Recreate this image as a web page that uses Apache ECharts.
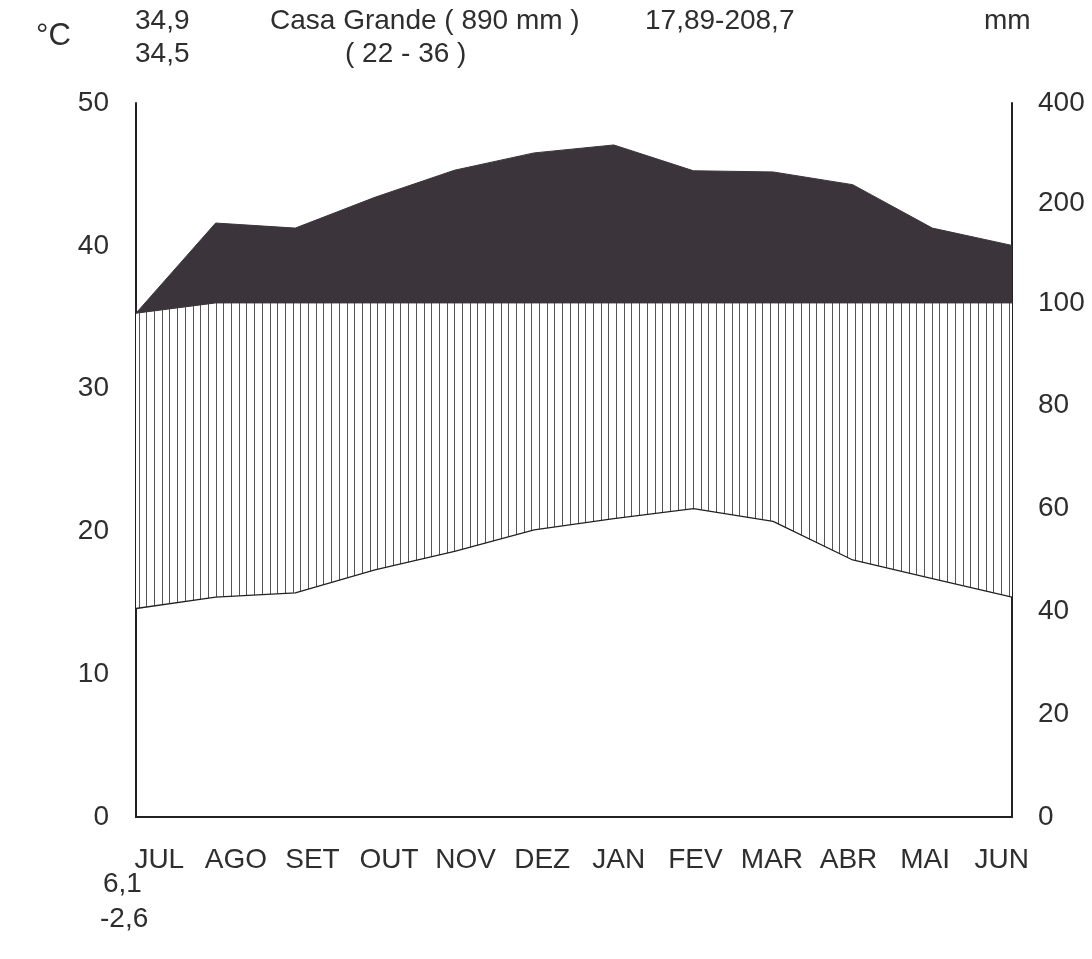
<!DOCTYPE html>
<html>
<head>
<meta charset="utf-8">
<script src="https://cdn.jsdelivr.net/npm/echarts@6/dist/echarts.min.js"></script>
<style>
html,body{margin:0;padding:0;background:#fff;}
#chart{width:1092px;height:959px;}
</style>
</head>
<body>
<div id="chart"></div>
<script>
// ---- data ----
const months = ['JUL','AGO','SET','OUT','NOV','DEZ','JAN','FEV','MAR','ABR','MAI','JUN'];
const temperature = [14.6, 15.4, 15.7, 17.3, 18.6, 20.1, 20.9, 21.6, 20.7, 18.0, 16.7, 15.4];
const precipitation = [98, 174, 168, 208, 251, 283, 299, 250, 248, 227, 168, 149];
const tempTicks = [0, 10, 20, 30, 40, 50];
const mmTicks = [0, 20, 40, 60, 80, 100, 200, 400];

// Walter-Lieth style scale: linear up to 100 mm, compressed (log) above
function mmToDiag(p) { return p <= 100 ? p * 0.36 : 36 + 7 * Math.log2(p / 100); }
const CAP = mmToDiag(100);

const precipDiag = precipitation.map(mmToDiag);
const hatchPart = precipDiag.map((d, i) => Math.min(d, CAP) - temperature[i]);
const darkPart = precipDiag.map(d => Math.max(d - CAP, 0));
const mmTickPos = mmTicks.map(mmToDiag);
const mmLabelMap = {};
mmTickPos.forEach((v, i) => { mmLabelMap[v.toFixed(4)] = String(mmTicks[i]); });

// hatch pattern
const pc = document.createElement('canvas');
pc.width = 77; pc.height = 8;
const pctx = pc.getContext('2d');
pctx.fillStyle = '#fff';
pctx.fillRect(0, 0, 77, 8);
pctx.fillStyle = '#555';
for (let i = 0; i < 10; i++) pctx.fillRect(Math.round(i * 7.7), 0, 1, 8);

const FONT = '"Liberation Sans", Arial, Helvetica, sans-serif';
const TXT = '#2e2e2e';
const FS = 28;
const chart = echarts.init(document.getElementById('chart'));

function txt(x, y, s, fs) {
  return { type: 'text', left: x, top: y, style: { text: s, fontSize: fs || FS, fontFamily: FONT, fill: TXT } };
}

chart.setOption({
  animation: false,
  backgroundColor: '#fff',
  grid: [
    { left: 136, right: 80, top: 103, bottom: 142 },
    { left: 121, right: 52, top: 103, bottom: 142 }
  ],
  xAxis: [
    { type: 'category', gridIndex: 0, data: months, boundaryGap: false,
      axisLine: { show: true, lineStyle: { color: '#222', width: 2 } },
      axisTick: { show: false }, axisLabel: { show: false }, splitLine: { show: false } },
    { type: 'category', gridIndex: 1, data: months, boundaryGap: true, position: 'bottom',
      axisLine: { show: false }, axisTick: { show: false },
      axisLabel: { show: true, fontSize: FS, fontFamily: FONT, color: TXT, margin: 29, interval: 0 } }
  ],
  yAxis: [
    { type: 'value', gridIndex: 0, min: 0, max: 50, interval: 10, position: 'left',
      axisLine: { show: true, lineStyle: { color: '#222', width: 2 } },
      axisTick: { show: false }, splitLine: { show: false },
      axisLabel: { fontSize: FS, fontFamily: FONT, color: TXT, margin: 27 } },
    { type: 'value', gridIndex: 0, min: 0, max: 50, position: 'right',
      axisLine: { show: true, lineStyle: { color: '#222', width: 2 } },
      axisTick: { show: false }, splitLine: { show: false },
      axisLabel: { fontSize: FS, fontFamily: FONT, color: TXT, margin: 26,
        customValues: mmTickPos,
        formatter: v => mmLabelMap[Number(v).toFixed(4)] || '' } },
    { type: 'value', gridIndex: 1, min: 0, max: 50, show: false }
  ],
  series: [
    { type: 'line', name: 'temp', stack: 'wl', data: temperature, symbol: 'none',
      lineStyle: { color: '#222', width: 1.3 }, z: 5 },
    { type: 'line', name: 'humid', stack: 'wl', data: hatchPart, symbol: 'none',
      lineStyle: { color: '#333', width: 1 },
      areaStyle: { color: { image: pc, repeat: 'repeat' }, opacity: 1 }, z: 3 },
    { type: 'line', name: 'perhumid', stack: 'wl', data: darkPart, symbol: 'none',
      lineStyle: { color: '#3b353b', width: 1 },
      areaStyle: { color: '#3b353b', opacity: 1 }, z: 4 }
  ],
  graphic: [
    txt(36, 21, '°C', 31),
    txt(135, 7, '34,9'),
    txt(135, 40, '34,5'),
    txt(270, 7, 'Casa Grande ( 890 mm )'),
    txt(345, 40, '( 22 - 36 )'),
    txt(645, 7, '17,89-208,7'),
    txt(984, 7, 'mm'),
    txt(103, 870, '6,1'),
    txt(100, 905, '-2,6')
  ]
});
</script>
</body>
</html>
